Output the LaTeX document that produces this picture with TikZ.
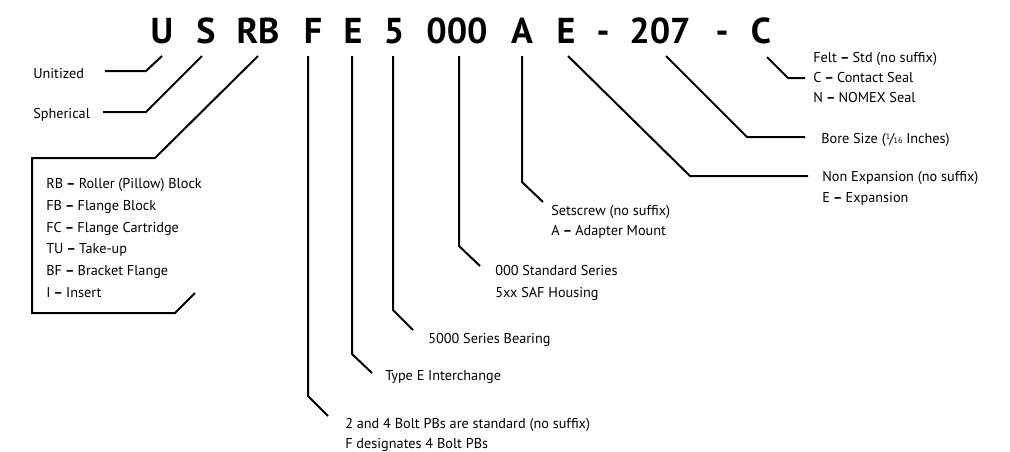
\documentclass[tikz,border=0pt]{standalone}
\usepackage{fontspec}
\setmainfont{PT Sans}
\begin{document}
\begin{tikzpicture}[x=0.75pt,y=-0.75pt,
  code/.style={font=\fontsize{27}{30}\selectfont\bfseries, inner sep=0pt, anchor=base},
  lbl/.style={font=\fontsize{10.7}{13}\selectfont, inner sep=0pt, anchor=base west, align=left},
  lead/.style={line width=1.5pt, line join=miter}]
\useasboundingbox (0,0) rectangle (1010,451);
\newcommand{\dsh}{\hspace{0.22em}\textbf{–}\hspace{0.22em}}
% code letters
\node[code] (cU) at (162,43) {U};
\node[code] (cS) at (206,43) {S};
\node[code] (cRB) at (258,43) {RB};
\node[code] (cF) at (313,43) {F};
\node[code] (cE) at (353,43) {E};
\node[code] (c5) at (394,43) {5};
\node[code] (c000) at (457,43) {000};
\node[code] (cA) at (522,43) {A};
\node[code] (cE2) at (566,43) {E};
\node[code] (cd1) at (603,43) {-};
\node[code] (c207) at (660,43) {207};
\node[code] (cd2) at (722,43) {-};
\node[code] (cC) at (761,43) {C};
% labels
\node[lbl] (lU) at (33,78) {Unitized};
\node[lbl] (lS) at (33,118) {Spherical};
\node[lbl] (lRB1) at (46,188) {RB\dsh Roller (Pillow) Block};
\node[lbl] (lRB2) at (46,210) {FB\dsh Flange Block};
\node[lbl] (lRB3) at (46,232) {FC\dsh Flange Cartridge};
\node[lbl] (lRB4) at (46,253) {TU\dsh Take-up};
\node[lbl] (lRB5) at (46,275) {BF\dsh Bracket Flange};
\node[lbl] (lRB6) at (46,297) {I\dsh Insert};
\node[lbl] (lF1) at (345,428) {2 and 4 Bolt PBs are standard (no suffix)};
\node[lbl] (lF2) at (345,448) {F designates 4 Bolt PBs};
\node[lbl] (lE) at (385,380) {Type E Interchange};
\node[lbl] (l5) at (428,343) {5000 Series Bearing};
\node[lbl] (l0001) at (495,275) {000 Standard Series};
\node[lbl] (l0002) at (495,297) {5xx SAF Housing};
\node[lbl] (lA1) at (551,215) {Setscrew (no suffix)};
\node[lbl] (lA2) at (551,235) {A\dsh Adapter Mount};
\node[lbl] (lE21) at (822,181) {Non Expansion (no suffix)};
\node[lbl] (lE22) at (822,202) {E\dsh Expansion};
\node[lbl] (l207) at (821,143) {Bore Size (\raisebox{0.55ex}{\fontsize{6}{6}\selectfont 1}\kern-0.05em/\kern-0.05em\raisebox{-0.1ex}{\fontsize{6}{6}\selectfont 16} Inches)};
\node[lbl] (lC1) at (813,62) {Felt\dsh Std (no suffix)};
\node[lbl] (lC2) at (813,82) {C\dsh Contact Seal};
\node[lbl] (lC3) at (813,102) {N\dsh NOMEX Seal};
% coordinates
\coordinate (pU0) at (162,56); \coordinate (pU1) at (146,71); \coordinate (pU2) at (105,71);
\coordinate (pS0) at (202,56); \coordinate (pS1) at (146,112); \coordinate (pS2) at (103,112);
\coordinate (pR0) at (258,56); \coordinate (pR1) at (155,158); \coordinate (pR2) at (32,158);
\coordinate (pR3) at (32,313); \coordinate (pR4) at (175,313); \coordinate (pR5) at (195,293);
\coordinate (pF0) at (308,56); \coordinate (pF1) at (308,396); \coordinate (pF2) at (328,416);
\coordinate (pE0) at (352,56); \coordinate (pE1) at (352,354); \coordinate (pE2) at (372,373);
\coordinate (p50) at (393,56); \coordinate (p51) at (393,310); \coordinate (p52) at (413,330);
\coordinate (p00) at (459,56); \coordinate (p01) at (459,246); \coordinate (p02) at (480,266);
\coordinate (pA0) at (522,56); \coordinate (pA1) at (522,182); \coordinate (pA2) at (543,202);
\coordinate (pX0) at (568,56); \coordinate (pX1) at (690,176); \coordinate (pX2) at (808,176);
\coordinate (pB0) at (666,56); \coordinate (pB1) at (747,137); \coordinate (pB2) at (805,137);
\coordinate (pC0) at (767,57); \coordinate (pC1) at (788,78); \coordinate (pC2) at (805,78);
% leaders
\draw[lead] (pU0) -- (pU1) -- (pU2);
\draw[lead] (pS0) -- (pS1) -- (pS2);
\draw[lead] (pR0) -- (pR1) -- (pR2) -- (pR3) -- (pR4) -- (pR5);
\draw[lead] (pF0) -- (pF1) -- (pF2);
\draw[lead] (pE0) -- (pE1) -- (pE2);
\draw[lead] (p50) -- (p51) -- (p52);
\draw[lead] (p00) -- (p01) -- (p02);
\draw[lead] (pA0) -- (pA1) -- (pA2);
\draw[lead] (pX0) -- (pX1) -- (pX2);
\draw[lead] (pB0) -- (pB1) -- (pB2);
\draw[lead] (pC0) -- (pC1) -- (pC2);
\end{tikzpicture}
\end{document}
